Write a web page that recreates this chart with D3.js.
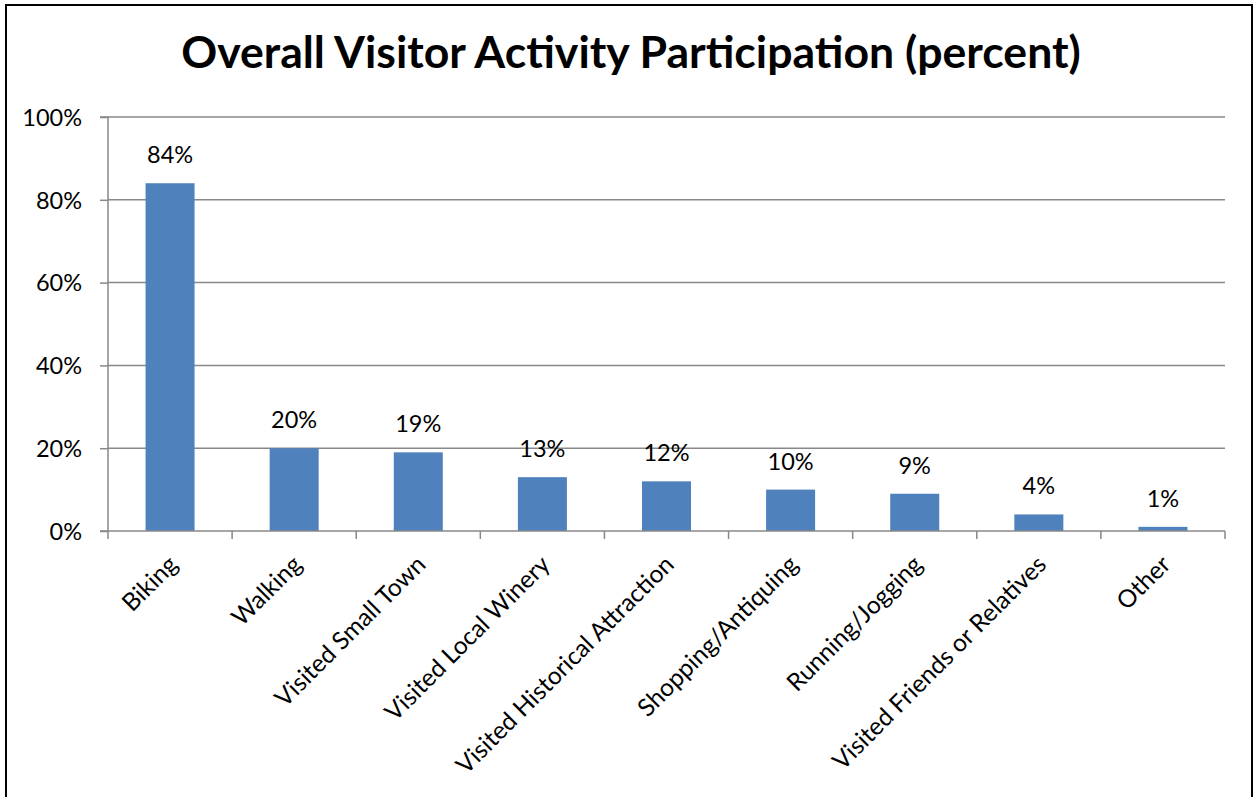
<!DOCTYPE html>
<html>
<head>
<meta charset="utf-8">
<script src="https://cdn.jsdelivr.net/npm/d3@7"></script>
<style>
  html, body { margin: 0; padding: 0; background: #fff; }
  svg { display: block; }
  text { font-family: Lato, "Open Sans", sans-serif; fill: #000; }
</style>
</head>
<body>
<svg id="chart" width="1255" height="797"></svg>
<script>
const title = "Overall Visitor Activity Participation (percent)";
const categories = ["Biking", "Walking", "Visited Small Town", "Visited Local Winery",
  "Visited Historical Attraction", "Shopping/Antiquing", "Running/Jogging",
  "Visited Friends or Relatives", "Other"];
const values = [84, 20, 19, 13, 12, 10, 9, 4, 1];
const yTicks = [0, 20, 40, 60, 80, 100];

const svg = d3.select("#chart");
const plot = { left: 108, right: 1225, top: 117, bottom: 531 };
const FS = 23.5;

// outer border
svg.append("rect")
  .attr("x", 6).attr("y", 5).attr("width", 1246).attr("height", 810)
  .attr("fill", "none").attr("stroke", "#000").attr("stroke-width", 2);

// title
const t = svg.append("text")
  .attr("x", 631).attr("y", 68)
  .attr("text-anchor", "middle")
  .attr("font-weight", "bold")
  .attr("font-size", 38)
  .text(title);
const tw = t.node().getComputedTextLength();
t.attr("font-size", 38 * 900 / tw);

const x = d3.scaleBand().domain(categories).range([plot.left, plot.right]).paddingInner(0).paddingOuter(0);
const y = d3.scaleLinear().domain([0, 100]).range([plot.bottom, plot.top]);

// gridlines
svg.append("g").selectAll("line").data(yTicks.filter(d => d > 0)).join("line")
  .attr("x1", plot.left).attr("x2", plot.right)
  .attr("y1", d => y(d)).attr("y2", d => y(d))
  .attr("stroke", "#888").attr("stroke-width", 1.5);

// y axis
const yAxis = d3.axisLeft(y).tickValues(yTicks).tickFormat(d => d + "%").tickSize(8).tickPadding(18);
const gy = svg.append("g").attr("transform", `translate(${plot.left},0)`).call(yAxis);
gy.select(".domain").attr("stroke", "#888").attr("stroke-width", 1.5).attr("d", `M-8,${plot.top}H0V${plot.bottom}H-8`);
gy.selectAll(".tick line").attr("stroke", "#888").attr("stroke-width", 1.5);
gy.selectAll(".tick text").attr("font-size", FS).attr("font-family", "Lato, 'Open Sans', sans-serif").attr("fill", "#000").attr("dy", "0.35em");

// bars
const bw = 49;
svg.append("g").selectAll("rect").data(values).join("rect")
  .attr("x", (d, i) => x(categories[i]) + x.bandwidth() / 2 - bw / 2)
  .attr("width", bw)
  .attr("y", d => y(d))
  .attr("height", d => y(0) - y(d))
  .attr("fill", "#4F81BD");

// value labels
svg.append("g").selectAll("text").data(values).join("text")
  .attr("x", (d, i) => x(categories[i]) + x.bandwidth() / 2)
  .attr("y", d => y(d) - 20)
  .attr("text-anchor", "middle")
  .attr("font-size", FS)
  .text(d => d + "%");

// x axis line and ticks
const gx = svg.append("g");
gx.append("line").attr("x1", plot.left).attr("x2", plot.right)
  .attr("y1", plot.bottom).attr("y2", plot.bottom)
  .attr("stroke", "#888").attr("stroke-width", 1.5);
const bounds = categories.map(c => x(c)).concat([plot.right]);
gx.selectAll("line.tk").data(bounds).join("line").attr("class", "tk")
  .attr("x1", d => d).attr("x2", d => d)
  .attr("y1", plot.bottom).attr("y2", plot.bottom + 8)
  .attr("stroke", "#888").attr("stroke-width", 1.5);

// category labels rotated -45
svg.append("g").selectAll("text").data(categories).join("text")
  .attr("transform", d => `translate(${x(d) + x.bandwidth() / 2 + 9},566) rotate(-45)`)
  .attr("text-anchor", "end")
  .attr("font-size", 24.5)
  .text(d => d);
</script>
</body>
</html>
